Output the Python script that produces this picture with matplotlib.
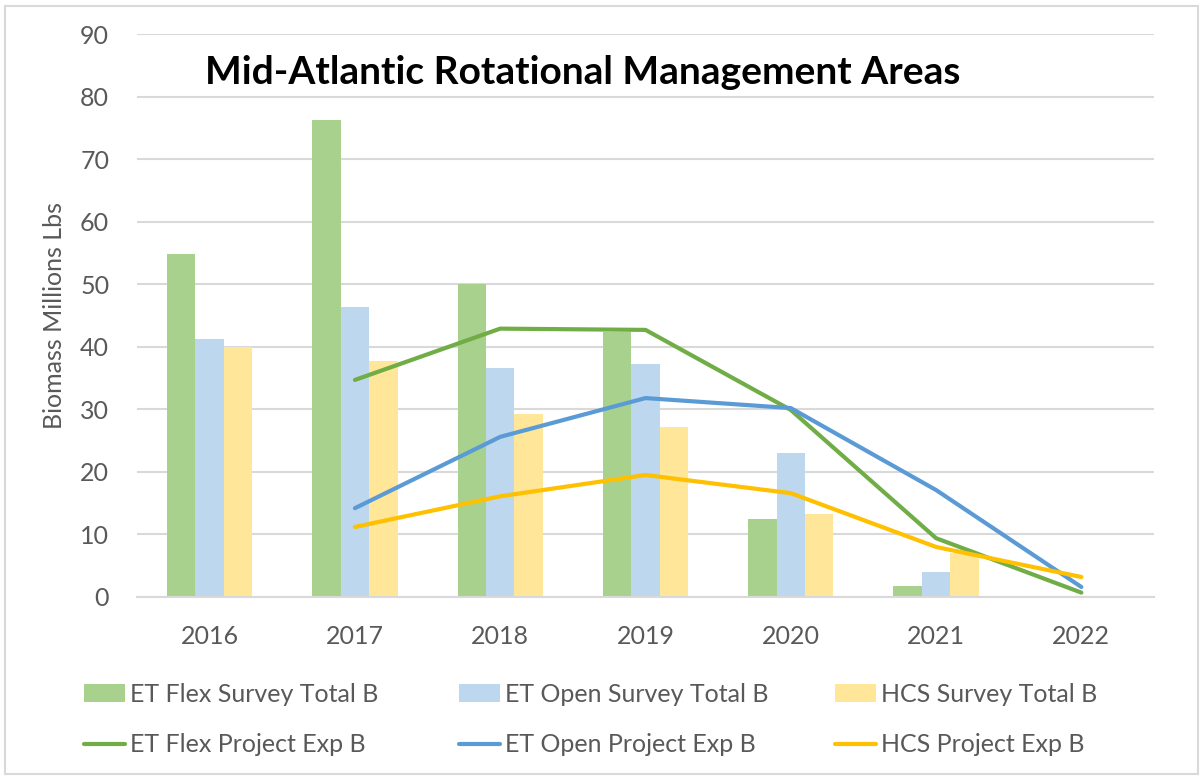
import numpy as np
import matplotlib.pyplot as plt
from matplotlib.patches import Rectangle

plt.rcParams['font.family'] = ['Lato', 'DejaVu Sans']

years = ['2016', '2017', '2018', '2019', '2020', '2021', '2022']

# survey totals (bars), millions of lbs
flex_survey = [54.8, 76.2, 50.1, 42.4, 12.5, 1.8, np.nan]
open_survey = [41.2, 46.4, 36.6, 37.2, 23.0, 4.0, np.nan]
hcs_survey = [39.9, 37.7, 29.2, 27.2, 13.3, 7.0, np.nan]

# projected exploitable biomass (lines), starting 2017
flex_proj = [np.nan, 34.7, 42.9, 42.7, 29.9, 9.4, 0.7]
open_proj = [np.nan, 14.2, 25.6, 31.8, 30.2, 17.1, 1.6]
hcs_proj = [np.nan, 11.2, 16.1, 19.5, 16.6, 8.0, 3.2]

text_col = '#595959'
grid_col = '#d9d9d9'

fig = plt.figure(figsize=(12.03, 7.76), dpi=100)
ax = fig.add_axes([137 / 1203, 1 - 597 / 776, (1154 - 137) / 1203, (597 - 34) / 776])

x = np.arange(len(years))
w = 0.196
b1 = ax.bar(x - w, flex_survey, w, color='#A9D18E', label='ET Flex Survey Total B', zorder=2)
b2 = ax.bar(x, open_survey, w, color='#BDD7EE', label='ET Open Survey Total B', zorder=2)
b3 = ax.bar(x + w, hcs_survey, w, color='#FFE699', label='HCS Survey Total B', zorder=2)

l1, = ax.plot(x, flex_proj, color='#70AD47', lw=3, solid_capstyle='round', label='ET Flex Project Exp B', zorder=3)
l2, = ax.plot(x, open_proj, color='#5B9BD5', lw=3, solid_capstyle='round', label='ET Open Project Exp B', zorder=3)
l3, = ax.plot(x, hcs_proj, color='#FFC000', lw=3, solid_capstyle='round', label='HCS Project Exp B', zorder=3)

ax.set_xlim(-0.5, len(years) - 0.5)
ax.set_ylim(0, 90)
ax.set_yticks(range(0, 91, 10))
ax.set_xticks(x)
ax.set_xticklabels(years)
ax.yaxis.grid(True, color=grid_col, lw=1.5, zorder=0)
ax.set_axisbelow(True)
for s in ['top', 'right', 'left']:
    ax.spines[s].set_visible(False)
ax.spines['bottom'].set_color(grid_col)
ax.spines['bottom'].set_linewidth(1.5)
ax.tick_params(axis='both', length=0, labelsize=18, labelcolor=text_col)
ax.tick_params(axis='y', pad=20)
ax.tick_params(axis='x', pad=20)
ax.set_ylabel('Biomass Millions Lbs', fontsize=18, color=text_col, labelpad=10)

fig.text(583 / 1203, 1 - 73 / 776, 'Mid-Atlantic Rotational Management Areas',
         fontsize=28, fontweight='bold', color='black', ha='center', va='center')

# one small legend per column, equal column widths like Excel
for col_x, pair in zip([84, 459, 835], [(b1, l1), (b2, l2), (b3, l3)]):
    fig.legend(list(pair), [h.get_label() for h in pair],
               loc='center left', bbox_to_anchor=(col_x / 1203, 1 - 719.5 / 776),
               frameon=False, fontsize=18, labelcolor=text_col, borderpad=0, borderaxespad=0,
               handlelength=1.65, handletextpad=0.2, labelspacing=1.1)

fig.patches.append(Rectangle((5 / 1203, 2 / 776), 1193 / 1203, 768 / 776, transform=fig.transFigure,
                             fill=False, edgecolor=grid_col, lw=1.5))

fig.savefig('out.png', dpi=100)
